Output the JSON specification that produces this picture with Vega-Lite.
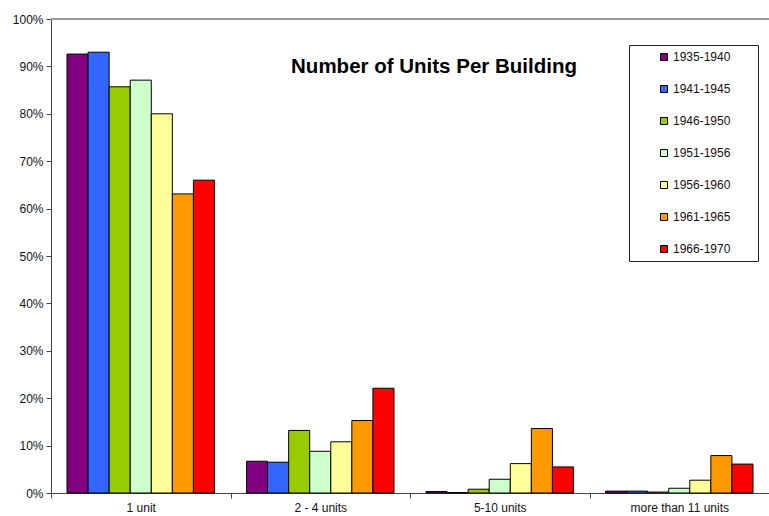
{
  "$schema": "https://vega.github.io/schema/vega-lite/v6.json",
  "autosize": "none",
  "width": 718,
  "height": 474,
  "padding": {"left": 51, "top": 19, "right": 0, "bottom": 23},
  "background": "white",
  "title": {
    "text": "Number of Units Per Building",
    "font": "Liberation Sans",
    "fontSize": 20.5,
    "fontWeight": "bold",
    "color": "black",
    "anchor": "middle",
    "frame": "group",
    "baseline": "alphabetic",
    "offset": 0,
    "dx": 24,
    "dy": 80
  },
  "config": {
    "view": {"stroke": null},
    "font": "Liberation Sans",
    "axis": {
      "labelFont": "Liberation Sans",
      "labelFontSize": 12,
      "labelColor": "#111",
      "domainColor": "#444",
      "tickColor": "#444",
      "tickSize": 5,
      "grid": false,
      "title": null
    }
  },
  "data": {
    "values": [
      {"type": "1 unit", "period": "1935-1940", "share": 0.926},
      {"type": "1 unit", "period": "1941-1945", "share": 0.930},
      {"type": "1 unit", "period": "1946-1950", "share": 0.857},
      {"type": "1 unit", "period": "1951-1956", "share": 0.871},
      {"type": "1 unit", "period": "1956-1960", "share": 0.800},
      {"type": "1 unit", "period": "1961-1965", "share": 0.631},
      {"type": "1 unit", "period": "1966-1970", "share": 0.660},
      {"type": "2 - 4 units", "period": "1935-1940", "share": 0.067},
      {"type": "2 - 4 units", "period": "1941-1945", "share": 0.065},
      {"type": "2 - 4 units", "period": "1946-1950", "share": 0.132},
      {"type": "2 - 4 units", "period": "1951-1956", "share": 0.088},
      {"type": "2 - 4 units", "period": "1956-1960", "share": 0.108},
      {"type": "2 - 4 units", "period": "1961-1965", "share": 0.153},
      {"type": "2 - 4 units", "period": "1966-1970", "share": 0.221},
      {"type": "5-10 units", "period": "1935-1940", "share": 0.003},
      {"type": "5-10 units", "period": "1941-1945", "share": 0.001},
      {"type": "5-10 units", "period": "1946-1950", "share": 0.008},
      {"type": "5-10 units", "period": "1951-1956", "share": 0.029},
      {"type": "5-10 units", "period": "1956-1960", "share": 0.062},
      {"type": "5-10 units", "period": "1961-1965", "share": 0.136},
      {"type": "5-10 units", "period": "1966-1970", "share": 0.055},
      {"type": "more than 11 units", "period": "1935-1940", "share": 0.004},
      {"type": "more than 11 units", "period": "1941-1945", "share": 0.004},
      {"type": "more than 11 units", "period": "1946-1950", "share": 0.002},
      {"type": "more than 11 units", "period": "1951-1956", "share": 0.010},
      {"type": "more than 11 units", "period": "1956-1960", "share": 0.027},
      {"type": "more than 11 units", "period": "1961-1965", "share": 0.079},
      {"type": "more than 11 units", "period": "1966-1970", "share": 0.061}
    ]
  },
  "layer": [
    {
      "mark": {"type": "rule", "color": "#999", "strokeWidth": 1},
      "encoding": {"y": {"datum": 1, "type": "quantitative", "scale": {"domain": [0, 1]}}}
    },
    {
      "mark": {"type": "bar", "stroke": "black", "strokeWidth": 1},
      "encoding": {
        "x": {
          "field": "type",
          "type": "nominal",
          "sort": null,
          "scale": {"paddingInner": 0, "paddingOuter": 0},
          "axis": {"labelAngle": 0, "tickBand": "extent", "labelPadding": 4}
        },
        "xOffset": {
          "field": "period",
          "type": "nominal",
          "sort": null,
          "scale": {"paddingInner": 0, "paddingOuter": 0.76}
        },
        "y": {
          "field": "share",
          "type": "quantitative",
          "scale": {"domain": [0, 1]},
          "axis": {
            "values": [0, 0.1, 0.2, 0.3, 0.4, 0.5, 0.6, 0.7, 0.8, 0.9, 1],
            "format": ".0%",
            "labelPadding": 3
          }
        },
        "color": {
          "field": "period",
          "type": "nominal",
          "sort": null,
          "scale": {
            "domain": ["1935-1940", "1941-1945", "1946-1950", "1951-1956", "1956-1960", "1961-1965", "1966-1970"],
            "range": ["#800080", "#3366FF", "#99CC00", "#CCFFCC", "#FFFF99", "#FF9900", "#FF0000"]
          },
          "legend": {
            "title": "\u00a0",
            "titleFontSize": 2,
            "titleOrient": "right",
            "titlePadding": 22,
            "orient": "none",
            "legendX": 578,
            "legendY": 26,
            "strokeColor": "#222",
            "fillColor": "white",
            "padding": 6,
            "symbolOffset": 23,
            "symbolType": "square",
            "symbolSize": 49,
            "symbolStrokeColor": "black",
            "symbolStrokeWidth": 1,
            "labelFont": "Liberation Sans",
            "labelFontSize": 12,
            "labelColor": "#111",
            "labelOffset": 3,
            "rowPadding": 20
          }
        }
      }
    }
  ]
}
